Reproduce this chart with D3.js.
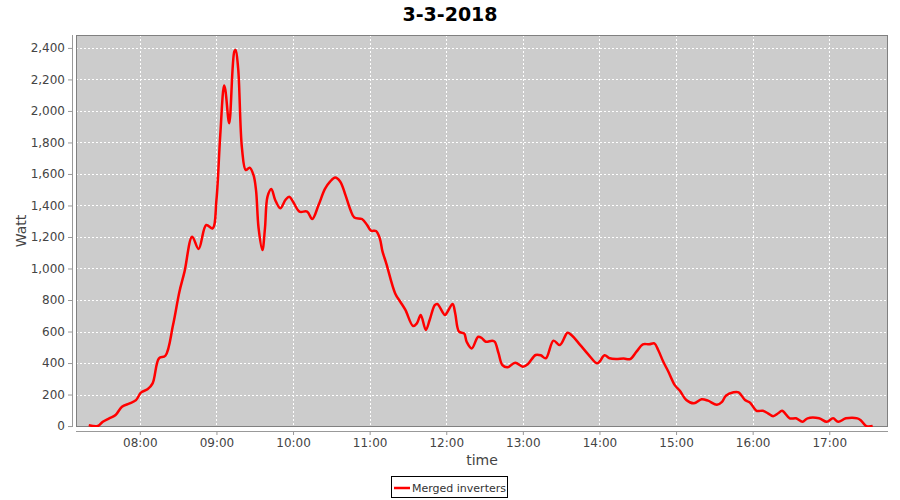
<!DOCTYPE html>
<html>
<head>
<meta charset="utf-8">
<script src="https://cdn.jsdelivr.net/npm/d3@7"></script>
<style>
  html, body { margin: 0; padding: 0; background: #fff; }
  svg { display: block; }
</style>
</head>
<body>
<svg id="chart" width="900" height="500"></svg>
<script>
const chartTitle = "3-3-2018";
const seriesName = "Merged inverters";
const xLabel = "time";
const yLabel = "Watt";
const times = ["07:20","07:27","07:31","07:36","07:41","07:46","07:52","07:57","08:01","08:06","08:10","08:15","08:20","08:26","08:31","08:35","08:41","08:46","08:52","08:57","09:00","09:03","09:06","09:07","09:10","09:14","09:15","09:17","09:20","09:23","09:26","09:29","09:31","09:33","09:36","09:38","09:40","09:43","09:46","09:50","09:54","09:57","10:00","10:05","10:11","10:15","10:20","10:25","10:29","10:33","10:37","10:41","10:45","10:48","10:54","10:58","11:01","11:05","11:08","11:10","11:13","11:20","11:24","11:28","11:34","11:37","11:40","11:44","11:47","11:51","11:53","11:59","12:01","12:05","12:07","12:10","12:14","12:16","12:20","12:25","12:28","12:31","12:36","12:38","12:41","12:44","12:48","12:54","13:00","13:04","13:10","13:14","13:18","13:24","13:29","13:35","13:38","13:45","13:51","13:58","14:00","14:04","14:08","14:13","14:19","14:24","14:29","14:34","14:39","14:43","14:46","14:50","14:54","14:59","15:03","15:08","15:14","15:20","15:25","15:32","15:36","15:39","15:45","15:49","15:54","15:58","16:03","16:08","16:12","16:16","16:20","16:23","16:29","16:34","16:39","16:43","16:52","16:58","17:03","17:07","17:13","17:22","17:25","17:29","17:34"];
const watts = [6,0,27,49,70,123,144,165,214,233,271,430,446,641,853,980,1202,1124,1276,1255,1435,1848,2161,2133,1922,2377,2387,2271,1763,1625,1640,1594,1498,1257,1117,1255,1456,1505,1435,1382,1435,1456,1424,1361,1361,1314,1403,1505,1551,1577,1551,1467,1371,1323,1314,1276,1240,1238,1190,1110,1033,842,789,737,635,652,705,610,673,768,775,705,726,775,716,599,588,535,493,567,557,535,542,535,461,387,373,402,377,394,451,449,430,542,514,592,578,514,457,398,408,449,430,425,428,425,472,519,519,525,483,408,345,260,224,165,144,170,161,135,154,192,214,214,165,148,97,97,81,63,81,97,49,49,27,49,49,27,49,27,49,49,34,0,0];
const xTicks = ["08:00","09:00","10:00","11:00","12:00","13:00","14:00","15:00","16:00","17:00"];
const yTicks = [0,200,400,600,800,1000,1200,1400,1600,1800,2000,2200,2400];
const xDomain = ["07:10","17:46"];
const yDomain = [-6, 2482];

const day = "2018-03-03";
const parse = d3.timeParse("%Y-%m-%d %H:%M");
const toDate = t => parse(day + " " + t);
const data = times.map((t, i) => ({ t: toDate(t), v: watts[i] }));

const plot = { left: 76, right: 888, top: 35, bottom: 427 };
const svg = d3.select("#chart");
const font = "'DejaVu Sans', Verdana, sans-serif";

const x = d3.scaleTime().domain(xDomain.map(toDate)).range([plot.left, plot.right]);
const y = d3.scaleLinear().domain(yDomain).range([plot.bottom, plot.top]);

// plot background
svg.append("rect")
  .attr("x", plot.left).attr("y", plot.top)
  .attr("width", plot.right - plot.left).attr("height", plot.bottom - plot.top)
  .attr("fill", "#cccccc");

// grid
const grid = svg.append("g").attr("stroke", "#ffffff").attr("stroke-width", 1).attr("stroke-dasharray", "2,2").attr("shape-rendering", "crispEdges");
grid.selectAll(".gx").data(xTicks).join("line")
  .attr("x1", d => Math.round(x(toDate(d))) + 0.5).attr("x2", d => Math.round(x(toDate(d))) + 0.5)
  .attr("y1", plot.top).attr("y2", plot.bottom);
grid.selectAll(".gy").data(yTicks).join("line")
  .attr("y1", d => Math.round(y(d)) + 0.5).attr("y2", d => Math.round(y(d)) + 0.5)
  .attr("x1", plot.left).attr("x2", plot.right);

// plot outline
svg.append("rect")
  .attr("x", plot.left + 0.5).attr("y", plot.top + 0.5)
  .attr("width", plot.right - plot.left - 1).attr("height", plot.bottom - plot.top - 1)
  .attr("fill", "none").attr("stroke", "#808080").attr("stroke-width", 1);

// line
const clipId = "plotclip";
svg.append("clipPath").attr("id", clipId).append("rect")
  .attr("x", plot.left).attr("y", plot.top)
  .attr("width", plot.right - plot.left).attr("height", plot.bottom - plot.top);
const line = d3.line().x(d => x(d.t)).y(d => y(d.v)).curve(d3.curveCatmullRom.alpha(0.5));
svg.append("path").datum(data)
  .attr("clip-path", `url(#${clipId})`)
  .attr("d", line)
  .attr("fill", "none").attr("stroke", "#ff0000").attr("stroke-width", 2.5)
  .attr("stroke-linejoin", "round");

// axes
const xAxis = d3.axisBottom(x).tickValues(xTicks.map(toDate)).tickFormat(d3.timeFormat("%H:%M")).tickSizeInner(4).tickSizeOuter(0).tickPadding(3);
const gx = svg.append("g").attr("transform", `translate(0,${plot.bottom + 4})`).call(xAxis);
const yAxis = d3.axisLeft(y).tickValues(yTicks).tickFormat(d3.format(",")).tickSizeInner(4).tickSizeOuter(0).tickPadding(3);
const gy = svg.append("g").attr("transform", `translate(${plot.left - 4},0)`).call(yAxis);
[gx, gy].forEach(g => {
  g.select(".domain").attr("stroke", "#999999");
  g.selectAll(".tick line").attr("stroke", "#999999");
  g.selectAll(".tick text").attr("fill", "#444444").attr("font-family", font).attr("font-size", 12);
});
gy.select(".domain").attr("d", `M0.5,${plot.top}V${plot.bottom}`);
gx.select(".domain").attr("d", `M${plot.left},0.5H${plot.right}`);

// title
svg.append("text").attr("x", 450).attr("y", 21).attr("text-anchor", "middle")
  .attr("font-family", font).attr("font-weight", "bold").attr("font-size", 19).attr("fill", "#000")
  .text(chartTitle);

// axis labels
svg.append("text").attr("x", (plot.left + plot.right) / 2).attr("y", 465).attr("text-anchor", "middle")
  .attr("font-family", font).attr("font-size", 14).attr("fill", "#444444").text(xLabel);
svg.append("text").attr("transform", `translate(26,${(plot.top + plot.bottom) / 2}) rotate(-90)`)
  .attr("text-anchor", "middle")
  .attr("font-family", font).attr("font-size", 14).attr("fill", "#444444").text(yLabel);

// legend
const lg = svg.append("g");
lg.append("rect").attr("x", 391.5).attr("y", 476.5).attr("width", 116).attr("height", 21)
  .attr("fill", "#fff").attr("stroke", "#000").attr("stroke-width", 1);
lg.append("line").attr("x1", 394).attr("x2", 410).attr("y1", 488).attr("y2", 488)
  .attr("stroke", "#ff0000").attr("stroke-width", 2.5);
lg.append("text").attr("x", 412).attr("y", 492).attr("font-family", font).attr("font-size", 11)
  .attr("fill", "#333").text(seriesName);
</script>
</body>
</html>
